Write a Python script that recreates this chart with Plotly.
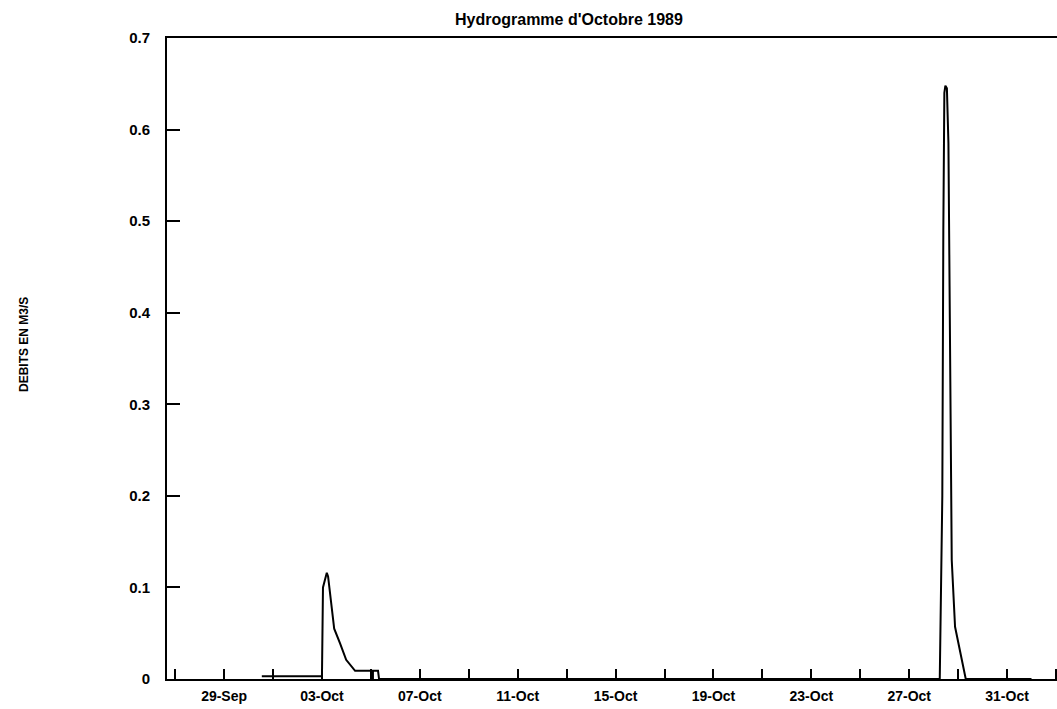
import plotly.graph_objects as go

# ---- data ----
times = [
    "1989-09-30 13:00", "1989-10-03 00:00", "1989-10-03 01:00", "1989-10-03 04:45",
    "1989-10-03 06:00", "1989-10-03 09:00", "1989-10-03 12:00", "1989-10-03 17:45",
    "1989-10-03 23:45", "1989-10-04 08:30", "1989-10-05 02:00", "1989-10-05 02:00",
    "1989-10-05 02:00", "1989-10-05 07:00", "1989-10-05 08:00",
    "1989-10-28 06:00", "1989-10-28 08:30", "1989-10-28 09:30", "1989-10-28 10:30",
    "1989-10-28 11:30", "1989-10-28 13:00", "1989-10-28 14:30", "1989-10-28 16:00",
    "1989-10-28 17:45", "1989-10-28 21:00", "1989-10-29 07:30", "1989-11-01 00:00",
]
debits = [
    0.003, 0.003, 0.100, 0.116,
    0.112, 0.086, 0.055, 0.039,
    0.021, 0.009, 0.009, 0.000,
    0.009, 0.009, 0.000,
    0.000, 0.200, 0.490, 0.640,
    0.648, 0.645, 0.585, 0.348,
    0.130, 0.057, 0.000, 0.000,
]

title_text = "Hydrogramme d'Octobre 1989"
y_title = "DEBITS EN M3/S"
y_ticks = [0, 0.1, 0.2, 0.3, 0.4, 0.5, 0.6, 0.7]
x_range = ["1989-09-26 16:00", "1989-11-02 01:00"]

FONT = "Arial, Liberation Sans, Helvetica, sans-serif"
DAY = 86400000

fig = go.Figure()
fig.add_trace(go.Scatter(
    x=times, y=debits, mode="lines",
    line=dict(color="black", width=2),
    showlegend=False, hoverinfo="x+y",
))

fig.update_layout(
    width=1057, height=709,
    margin=dict(l=167, r=0, t=38, b=30),
    plot_bgcolor="white", paper_bgcolor="white",
    font=dict(family=FONT, color="black", size=12),
    showlegend=False,
)

fig.update_xaxes(
    type="date", range=x_range,
    tick0="1989-09-29", dtick=4 * DAY, tickformat="%d-%b",
    ticks="inside", ticklen=10, tickwidth=1.5, tickcolor="black",
    minor=dict(tick0="1989-09-29", dtick=2 * DAY, ticks="inside",
               ticklen=10, tickwidth=1.5, tickcolor="black", showgrid=False),
    showline=True, linecolor="black", linewidth=2, mirror=True,
    showgrid=False, zeroline=False,
    tickfont=dict(family=FONT, size=14, color="black", weight="bold"),
    ticklabelstandoff=3,
)
fig.update_yaxes(
    range=[0, 0.7], tickvals=y_ticks,
    ticktext=[("%g" % v) for v in y_ticks],
    ticks="inside", ticklen=13, tickwidth=1.5, tickcolor="black",
    showline=True, linecolor="black", linewidth=2, mirror=False,
    showgrid=False, zeroline=False,
    tickfont=dict(family=FONT, size=15, color="black", weight="bold"),
    ticklabelstandoff=12,
)

fig.add_annotation(
    text=title_text, xref="paper", yref="paper",
    x=(569 - 167) / 890, y=1 + (38 - 20) / 641,
    xanchor="center", yanchor="middle", showarrow=False,
    font=dict(family=FONT, size=16, color="black", weight="bold"),
)
fig.add_annotation(
    text=y_title, xref="paper", yref="paper",
    x=(24 - 167) / 890, y=(679 - 345) / 641, textangle=-90,
    xanchor="center", yanchor="middle", showarrow=False,
    font=dict(family=FONT, size=12, color="black", weight="bold"),
)

fig.write_html("out.html")
